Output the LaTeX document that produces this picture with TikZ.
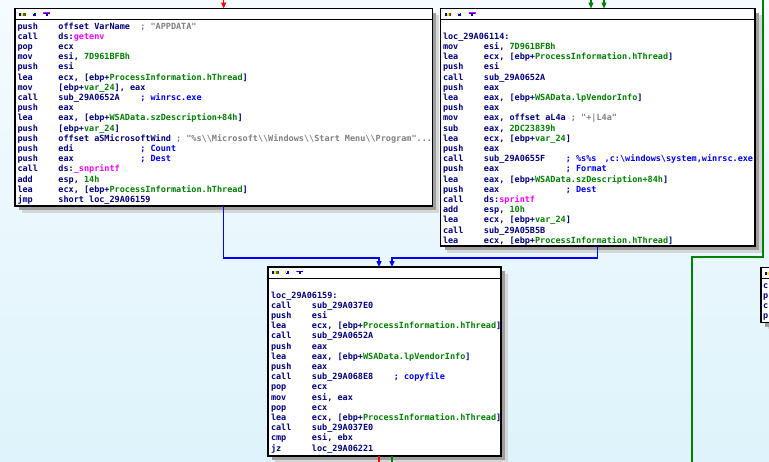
\documentclass[tikz,border=0pt]{standalone}
\usepackage{fontspec}
\newfontfamily\codefont{DejaVu Sans Mono}
\usetikzlibrary{calc,shadows,arrows.meta}
\definecolor{idanavy}{RGB}{0,0,128}
\definecolor{idagreen}{RGB}{0,128,0}
\definecolor{idamag}{RGB}{255,0,255}
\definecolor{idacmt}{RGB}{0,0,255}
\definecolor{idastr}{RGB}{128,128,128}
\definecolor{edgeblue}{RGB}{0,0,255}
\definecolor{edgegreen}{RGB}{0,128,0}
\definecolor{edgered}{RGB}{255,0,0}
\definecolor{bgtop}{RGB}{245,251,255}
\definecolor{bgbot}{RGB}{222,243,251}
\newlength\chw
\settowidth{\chw}{\codefont\bfseries\fontsize{8.5}{10.2}\selectfont 0}
\newcommand\mn[1]{\makebox[8\chw][l]{#1}}
\newcommand\Spc[1]{\hspace*{#1\chw}}
\newcommand\gr[1]{\textcolor{idagreen}{#1}}
\newcommand\fn[1]{\textcolor{idamag}{#1}}
\newcommand\cmt[1]{\textcolor{idacmt}{#1}}
\newcommand\strc[1]{\textcolor{idastr}{#1}}
\newcommand\bsl{\textbackslash}
\newcommand\ticons[1]{%
  \fill[blue!70!black] ($(#1.north west)+(4,4)$) rectangle ++(2,3);
  \fill[yellow!90!orange] ($(#1.north west)+(6,4)$) rectangle ++(2,3);
  \fill[green!60!black] ($(#1.north west)+(8,4)$) rectangle ++(1.5,3);
  \fill[red!80!black] ($(#1.north west)+(9.5,4)$) rectangle ++(1.3,3);
  \fill[yellow!80!orange] ($(#1.north west)+(16.7,4)$) rectangle ++(1.6,1.6);
  \fill[blue!80!black] ($(#1.north west)+(17.5,5.5)$) rectangle ++(3.2,1.7);
  \fill[blue!80!black] ($(#1.north west)+(19.3,4)$) rectangle ++(1.4,1.6);
  \fill[idamag] ($(#1.north west)+(28.3,3.8)$) rectangle ++(6.7,1.5);
  \fill[blue!80!black] ($(#1.north west)+(28.8,4.3)$) rectangle ++(5.7,0.8);
  \fill[blue!80!black] ($(#1.north west)+(30.6,5.3)$) rectangle ++(2,1.9);
}
\tikzset{
  blk/.style={draw=black, line width=1.3pt, fill=white, inner sep=0pt, outer sep=0pt,
    anchor=north west,
    general shadow={fill=black!16, shadow xshift=6.5pt, shadow yshift=-6.5pt},
    general shadow={fill=black!38, shadow xshift=4pt, shadow yshift=-4pt}},
  code/.style={anchor=base west, inner sep=0pt, outer sep=0pt, text=idanavy,
    font=\codefont\bfseries\fontsize{8.5}{10.2}\selectfont},
  conn/.style={line width=1.3pt},
  arr/.style={-{Triangle[width=5pt,length=6pt]}},
  tbar/.style={line width=1pt}
}
\frenchspacing
\begin{document}
\begin{tikzpicture}[x=1pt,y=-1pt]
\useasboundingbox (0,0) rectangle (769,461);
\clip (0,0) rectangle (769,461);
\fill[top color=bgtop, bottom color=bgbot] (0,0) rectangle (769,461);

% boxes
\node[blk, minimum width=417.3pt, minimum height=197.5pt] (b1) at (15,8.5) {};
\node[blk, minimum width=314.5pt, minimum height=237.5pt] (b2) at (440.5,8.5) {};
\node[blk, minimum width=233pt, minimum height=189pt] (b3) at (268,267) {};
\node[blk, minimum width=60pt, minimum height=55pt] (b4) at (761,267.7) {};

% title bars
\foreach \b in {b1,b2,b3,b4} {
  \draw[tbar] ($(\b.north west)+(0,11)$) -- ($(\b.north east)+(0,11)$);
  \ticons{\b}
}

% code text
\node[code] (t1) at (17.5,29) {\begin{tabular}[t]{@{}l@{}}
\mn{push}offset VarName\Spc{2}\strc{; "APPDATA"}\\
\mn{call}ds:\fn{getenv}\\
\mn{pop}ecx\\
\mn{mov}esi, \gr{7D961BFBh}\\
\mn{push}esi\\
\mn{lea}ecx, [ebp+\gr{ProcessInformation.hThread}]\\
\mn{mov}[ebp+\gr{var\_24}], eax\\
\mn{call}sub\_29A0652A\Spc{4}\cmt{; winrsc.exe}\\
\mn{push}eax\\
\mn{lea}eax, [ebp+\gr{WSAData.szDescription+84h}]\\
\mn{push}[ebp+\gr{var\_24}]\\
\mn{push}offset aSMicrosoftWind \strc{; "\%s\bsl\bsl{}Microsoft\bsl\bsl{}Windows\bsl\bsl{}Start Menu\bsl\bsl{}Program"...}\\
\mn{push}edi\Spc{13}\cmt{; Count}\\
\mn{push}eax\Spc{13}\cmt{; Dest}\\
\mn{call}ds:\fn{\_snprintf}\\
\mn{add}esp, \gr{14h}\\
\mn{lea}ecx, [ebp+\gr{ProcessInformation.hThread}]\\
\mn{jmp}short loc\_29A06159
\end{tabular}};

\node[code] (t2) at (443,29) {\begin{tabular}[t]{@{}l@{}}
\\
loc\_29A06114:\\
\mn{mov}esi, \gr{7D961BFBh}\\
\mn{lea}ecx, [ebp+\gr{ProcessInformation.hThread}]\\
\mn{push}esi\\
\mn{call}sub\_29A0652A\\
\mn{push}eax\\
\mn{lea}eax, [ebp+\gr{WSAData.lpVendorInfo}]\\
\mn{push}eax\\
\mn{mov}eax, offset aL4a \strc{; "+|L4a"}\\
\mn{sub}eax, \gr{2DC23839h}\\
\mn{lea}ecx, [ebp+\gr{var\_24}]\\
\mn{push}eax\\
\mn{call}sub\_29A0655F\Spc{4}\cmt{; \%s\%s\Spc{1.6},c:\bsl{}windows\bsl{}system,winrsc.exe}\\
\mn{push}eax\Spc{13}\cmt{; Format}\\
\mn{lea}eax, [ebp+\gr{WSAData.szDescription+84h}]\\
\mn{push}eax\Spc{13}\cmt{; Dest}\\
\mn{call}ds:\fn{sprintf}\\
\mn{add}esp, \gr{10h}\\
\mn{lea}ecx, [ebp+\gr{var\_24}]\\
\mn{call}sub\_29A05B5B\\
\mn{lea}ecx, [ebp+\gr{ProcessInformation.hThread}]
\end{tabular}};

\node[code] (t3) at (271,287.8) {\begin{tabular}[t]{@{}l@{}}
\\
loc\_29A06159:\\
\mn{call}sub\_29A037E0\\
\mn{push}esi\\
\mn{lea}ecx, [ebp+\gr{ProcessInformation.hThread}]\\
\mn{call}sub\_29A0652A\\
\mn{push}eax\\
\mn{lea}eax, [ebp+\gr{WSAData.lpVendorInfo}]\\
\mn{push}eax\\
\mn{call}sub\_29A068E8\Spc{4}\cmt{; copyfile}\\
\mn{pop}ecx\\
\mn{mov}esi, eax\\
\mn{pop}ecx\\
\mn{lea}ecx, [ebp+\gr{ProcessInformation.hThread}]\\
\mn{call}sub\_29A037E0\\
\mn{cmp}esi, ebx\\
\mn{jz}loc\_29A06221
\end{tabular}};

\node[code] (t4) at (763,288) {\begin{tabular}[t]{@{}l@{}}c\\p\\c\\p\end{tabular}};

% connectors
\coordinate (rtop) at (223.65,-4);
\draw[conn, edgered, arr] (rtop) -- (b1.north);
\coordinate (g1top) at (591,-4);
\coordinate (g2top) at (604,-4);
\draw[conn, edgegreen, arr] (g1top) -- (g1top |- b2.north);
\draw[conn, edgegreen, arr] (g2top) -- (g2top |- b2.north);
\coordinate (gr1) at (763,-4);
\coordinate (gr2) at (763,257);
\coordinate (gr3) at (692,257);
\coordinate (gr4) at (692,466);
\draw[conn, edgegreen] (gr1) -- (gr2) -- (gr3) -- (gr4);
\coordinate (m1) at (379,258);
\coordinate (m2) at (392,258);
\draw[conn, edgeblue, arr] (b1.south) |- (m1) -- (m1 |- b3.north);
\draw[conn, edgeblue, arr] (b2.south) |- (m2) -- (m2 |- b3.north);
\coordinate (o1) at (379,466);
\coordinate (o2) at (392,466);
\draw[conn, edgered] (o1 |- b3.south) -- (o1);
\draw[conn, edgegreen] (o2 |- b3.south) -- (o2);
\end{tikzpicture}
\end{document}
